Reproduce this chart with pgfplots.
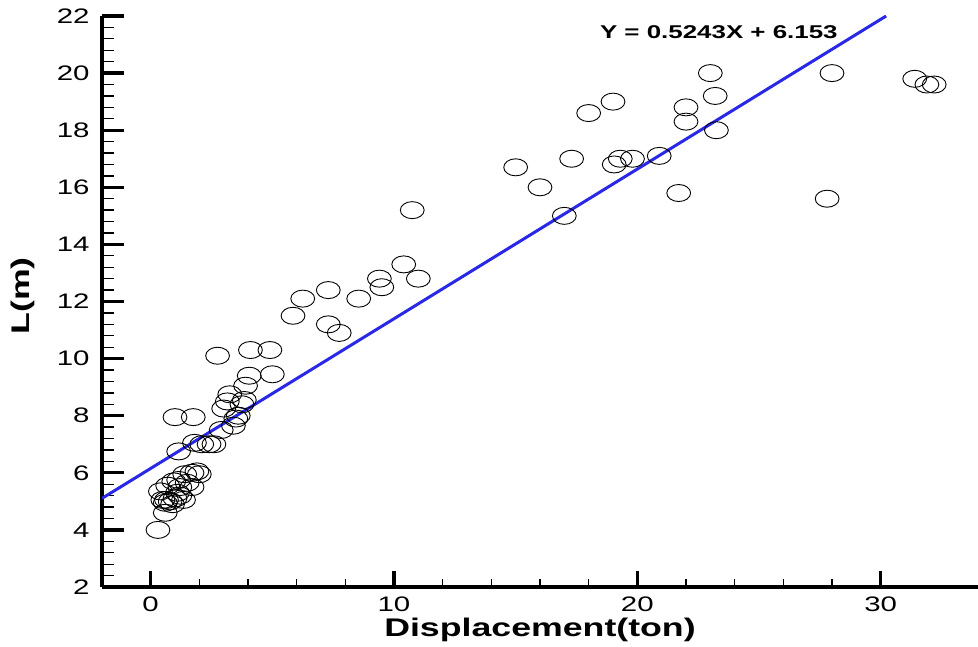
\documentclass[border=0pt]{standalone}
\usepackage{fontspec}
\setmainfont{Liberation Sans}[FakeStretch=1.4]
\usepackage{pgfplots}
\pgfplotsset{compat=1.18}
\definecolor{fitblue}{RGB}{40,40,230}

\begin{document}
\begin{tikzpicture}
\path[use as bounding box] (-102pt,-59pt) rectangle (876pt,587pt);
\begin{axis}[
  scale only axis, width=876pt, height=571pt,
  xmin=-2, xmax=34, ymin=2, ymax=22,
  separate axis lines,
  axis x line*=bottom, axis y line*=left,
  x axis line style={line width=3.2pt, black},
  y axis line style={line width=3.2pt, black},
  xtick={0,10,20,30}, ytick={2,4,...,22},
  minor x tick num=4, minor y tick num=4,
  tick align=inside,
  major tick length=22pt, minor tick length=12pt,
  x tick style={/pgfplots/major tick length=16pt,/pgfplots/minor tick length=8pt},
  every tick/.style={black},
  every major tick/.style={line width=3.2pt, black},
  every minor tick/.style={line width=1.3pt, black},
  xticklabel style={font=\fontsize{21}{25}\selectfont, yshift=-6pt},
  yticklabel style={font=\fontsize{21}{25}\selectfont, xshift=-9pt},
  /pgf/number format/assume math mode=true,
  xlabel={Displacement(ton)}, ylabel={L(m)},
  every axis x label/.style={at={(axis description cs:0.5,0)}, anchor=base,
    yshift=-49pt, font=\fontsize{25.5}{30}\selectfont\bfseries},
  every axis y label/.style={at={(axis description cs:0,0.51)}, anchor=center,
    xshift=-79pt, rotate=90, font=\fontsize{25.5}{30}\selectfont\bfseries},
]
% fitted regression line
\addplot[fitblue, line width=3pt] coordinates {(-2,5.1044) (30.225,22)};
% measured hulls
\addplot[only marks, mark=o, mark size=8.5pt,
         mark options={xscale=1.4, line width=0.9pt, black}] table {
X Y
0.3 4.0
0.6 4.6
0.5 5.05
0.6 4.95
0.8 5.0
0.9 4.9
0.4 5.35
0.7 5.55
0.95 5.7
1.15 5.75
1.2 5.5
1.35 5.05
1.2 5.2
1.5 5.65
1.7 6.0
1.9 6.05
2.0 5.95
1.7 5.5
1.1 5.3
0.65 5.05
1.0 5.1
1.4 5.95
1.15 6.75
1.8 7.05
2.1 7.0
2.4 7.0
2.6 7.0
2.9 7.5
3.4 7.65
3.5 7.9
1.0 7.95
1.75 7.95
3.0 8.25
3.15 8.5
3.75 8.4
3.85 8.55
3.25 8.75
3.9 9.05
4.05 9.4
5.0 9.45
2.75 10.1
4.1 10.3
4.9 10.3
3.6 8.0
5.85 11.5
6.25 12.1
7.3 12.4
7.3 11.2
7.75 10.9
8.55 12.1
9.4 12.8
9.5 12.5
10.4 13.3
11.0 12.8
10.75 15.2
15.0 16.7
16.0 16.0
17.0 15.0
17.3 17.0
18.0 18.6
19.0 19.0
19.05 16.8
19.3 17.0
19.8 17.0
20.9 17.1
21.7 15.8
22.0 18.8
22.0 18.3
23.0 20.0
23.2 19.2
23.25 18.0
27.8 15.6
28.0 20.0
31.4 19.8
31.9 19.6
32.2 19.6
};
\node[font=\fontsize{18.5}{22}\selectfont\bfseries] at (axis cs:23.35,21.45) {Y = 0.5243X + 6.153};
\end{axis}
\end{tikzpicture}
\end{document}
